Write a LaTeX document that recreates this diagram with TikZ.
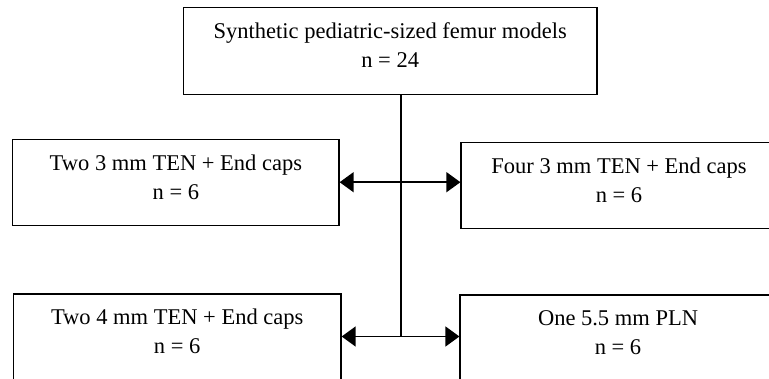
\documentclass[tikz,border=0pt]{standalone}
\usepackage{fontspec}
\setmainfont{Liberation Serif}
\usepackage{tikz}
\usetikzlibrary{arrows.meta,positioning,calc}

\begin{document}
\begin{tikzpicture}[
    x=1pt, y=-1pt,
    every node/.style={font=\fontsize{22.5}{29}\selectfont},
    grp/.style={draw,line width=1.2pt,rectangle,inner sep=0pt,align=center,
      text height=60pt,text depth=26pt},
    link/.style={line width=1.4pt,{Triangle[length=14pt,width=20pt]}-{Triangle[length=14pt,width=20pt]}}
  ]
  \useasboundingbox (0,0) rectangle (769,379);
  \node[grp,minimum width=413.7pt,text depth=27pt] (models) at (390.2,50.7)
    {Synthetic pediatric-sized femur models\\n = 24};
  \node[grp,minimum width=326.3pt] (twothree) at (175.9,182.2)
    {Two 3 mm TEN + End caps\\n = 6};
  \node[grp,minimum width=316pt] (fourthree) at (619,185.3)
    {Four 3 mm TEN + End caps\\n = 6};
  \node[grp,minimum width=327.7pt] (twofour) at (177.2,337)
    {Two 4 mm TEN + End caps\\n = 6};
  \node[grp,minimum width=316pt] (onepln) at (618,338)
    {One 5.5 mm PLN\\n = 6};
  \coordinate (hub) at (401,336.5);
  % trunk and branches
  \draw[line width=1.4pt] (hub |- models.south) -- (hub);
  \draw[link] (twothree.east) -- (twothree.east -| fourthree.west);
  \draw[link] (twofour.east |- hub) -- (hub -| onepln.west);
\end{tikzpicture}
\end{document}
